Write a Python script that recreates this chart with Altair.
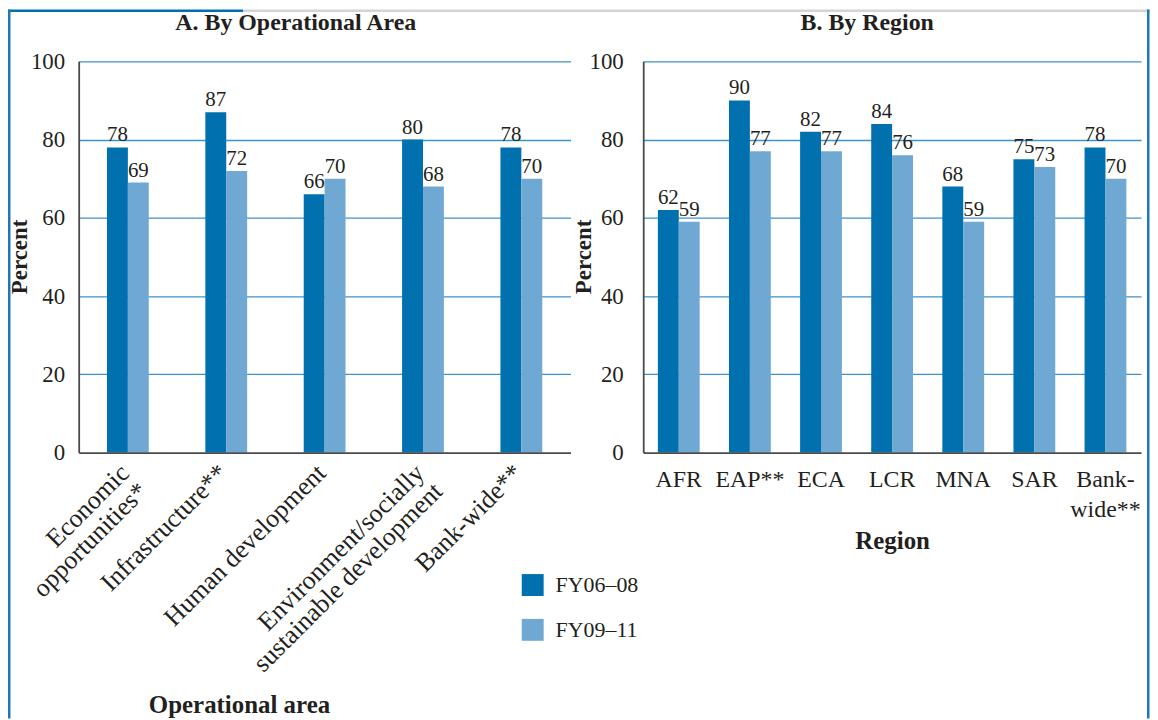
import altair as alt
import pandas as pd

# ---------------- data ----------------
periods = ["FY06–08", "FY09–11"]

areas = ["Economic|opportunities*", "Infrastructure**", "Human development",
         "Environment/socially|sustainable development", "Bank-wide**"]
area_fy0608 = [78, 87, 66, 80, 78]
area_fy0911 = [69, 72, 70, 68, 70]

regions = ["AFR", "EAP**", "ECA", "LCR", "MNA", "SAR", "Bank-|wide**"]
region_fy0608 = [62, 90, 82, 84, 68, 75, 78]
region_fy0911 = [59, 77, 77, 76, 59, 73, 70]

y_ticks = [0, 20, 40, 60, 80, 100]

# ---------------- style ----------------
FONT = "Liberation Serif"
TXT = "#231f20"
DARK = "#0070af"
LIGHT = "#6fa8d2"
GRID = "#3d93cc"
AXIS = "#4a4a4a"
FRAME = "#1f78b4"


def to_long(cats, a, b):
    rows = []
    for c, v1, v2 in zip(cats, a, b):
        rows.append({"category": c, "period": periods[0], "value": v1})
        rows.append({"category": c, "period": periods[1], "value": v2})
    return pd.DataFrame(rows)


df_a = to_long(areas, area_fy0608, area_fy0911)
df_b = to_long(regions, region_fy0608, region_fy0911)

color = alt.Color(
    "period:N",
    scale=alt.Scale(domain=periods, range=[DARK, LIGHT]),
    legend=alt.Legend(
        title=None, orient="none", legendX=516, legendY=515,
        symbolType="square", symbolSize=484, symbolStrokeWidth=0,
        symbolOpacity=1, labelFontSize=22, labelFont=FONT, labelColor=TXT,
        labelOffset=12, rowPadding=23, padding=0,
    ),
)

xoff = alt.XOffset("period:N", sort=periods,
                   scale=alt.Scale(paddingInner=0, paddingOuter=0))


def y_enc(label_pad, title_x):
    return alt.Y(
        "value:Q",
        scale=alt.Scale(domain=[0, 100], nice=False),
        title="Percent",
        axis=alt.Axis(
            values=y_ticks, grid=True,
            gridColor={"condition": {"test": "datum.value === 0", "value": "transparent"},
                       "value": GRID},
            gridWidth=1.3, domainColor=AXIS, domainWidth=1.8, ticks=False,
            labelFont=FONT, labelFontSize=23, labelColor=TXT,
            labelPadding=label_pad,
            titleFont=FONT, titleFontSize=23, titleFontWeight="bold",
            titleColor=TXT, titleAngle=270, titleX=title_x, titleY=196,
            titleAlign="center", titleBaseline="middle",
        ),
    )


def panel(df, cats, width, pad_inner, xaxis, title, title_dx, ylabel_pad, ytitle_x):
    x = alt.X("category:N", sort=cats,
              scale=alt.Scale(paddingInner=pad_inner, paddingOuter=pad_inner / 2),
              axis=xaxis)
    y = y_enc(ylabel_pad, ytitle_x)
    base = alt.Chart(df)
    bars = base.mark_bar(strokeWidth=0).encode(x=x, xOffset=xoff, y=y, color=color)
    labels = base.mark_text(
        baseline="alphabetic", dy=-6, font=FONT, fontSize=21, color=TXT
    ).encode(x=x, xOffset=xoff, y=alt.Y("value:Q"), text=alt.Text("value:Q"))
    return alt.layer(bars, labels).properties(
        width=width, height=393,
        title=alt.TitleParams(
            title, anchor="middle", frame="group", dx=title_dx, offset=15,
            baseline="top", font=FONT, fontSize=24, fontWeight="bold",
            color=TXT,
        ),
    )


xaxis_a = alt.Axis(
    title="Operational area", labelAngle=-45, labelAlign="right",
    labelBaseline="middle", labelPadding=16, labelOffset=-3, labelLimit=0,
    labelOverlap=False,
    labelExpr="split(datum.label, '|')", labelLineHeight=26,
    labelFont=FONT, labelFontSize=26, labelColor=TXT,
    ticks=False, grid=False, domainColor=AXIS, domainWidth=1.8, zindex=1,
    titleFont=FONT, titleFontSize=25, titleFontWeight="bold", titleColor=TXT,
    titleX=161, titleY=261, titleAlign="center", titleBaseline="alphabetic",
)

xaxis_b = alt.Axis(
    title="Region", labelAngle=0, labelAlign="center", labelBaseline="top",
    labelPadding=15, labelLimit=0, labelOverlap=False,
    labelExpr="split(datum.label, '|')", labelLineHeight=30,
    labelFont=FONT, labelFontSize=24, labelColor=TXT,
    ticks=False, grid=False, domainColor=AXIS, domainWidth=1.8, zindex=1,
    titleFont=FONT, titleFontSize=25, titleFontWeight="bold", titleColor=TXT,
    titleX=250, titleY=96, titleAlign="center", titleBaseline="alphabetic",
)

panel_a = panel(df_a, areas, 494, 0.575, xaxis_a, "A. By Operational Area", -29, 14, -59)
panel_b = panel(df_b, regions, 500, 0.412, xaxis_b, "B. By Region", -25, 20, -60)

# ---------------- page frame (thin filled rects) ----------------
fdf = pd.DataFrame({"k": [0]})
fbase = alt.Chart(fdf)
top_blue = fbase.mark_rect(color=DARK, strokeWidth=0).encode(
    x=alt.value(0), x2=alt.value(236), y=alt.value(-52), y2=alt.value(-49.5))
top_gray = fbase.mark_rect(color="#d4d4d4", strokeWidth=0).encode(
    x=alt.value(236), x2=alt.value(1147), y=alt.value(-52), y2=alt.value(-49.5))
left_b = fbase.mark_rect(color=FRAME, strokeWidth=0).encode(
    x=alt.value(0), x2=alt.value(2.5), y=alt.value(-52), y2=alt.value(660))
right_b = fbase.mark_rect(color=FRAME, strokeWidth=0).encode(
    x=alt.value(1144), x2=alt.value(1146.5), y=alt.value(-52), y2=alt.value(660))
frame = alt.layer(top_blue, top_gray, left_b, right_b).properties(width=1, height=393)

inner = alt.HConcatChart(hconcat=[panel_a, panel_b], spacing=73, bounds="flush")

chart = alt.HConcatChart(
    hconcat=[frame, inner], spacing=70, bounds="flush", padding=0,
).configure_view(stroke=None)

chart.save("out.html", embed_options={"renderer": "svg", "actions": False})
